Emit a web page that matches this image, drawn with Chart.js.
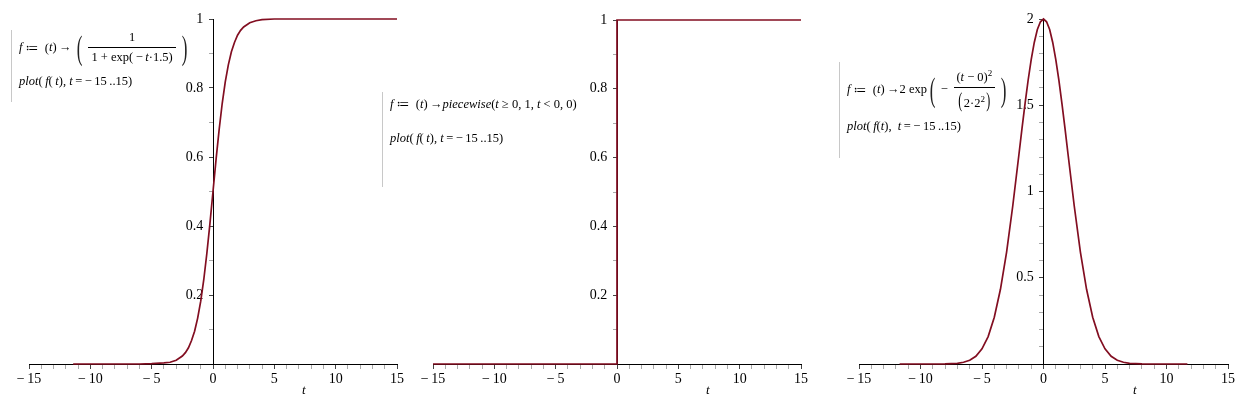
<!DOCTYPE html>
<html>
<head>
<meta charset="utf-8">
<script src="https://cdn.jsdelivr.net/npm/chart.js@4.4.1/dist/chart.umd.min.js"></script>
<style>
  html, body { margin: 0; padding: 0; background: #fff; }
  body { width: 1250px; height: 415px; position: relative; overflow: hidden; font-family: "Liberation Serif", "DejaVu Serif", serif; }
  .plot { position: absolute; top: 0; height: 415px; }
  .note { position: absolute; border-left: 1px solid #c8c8c8; padding-left: 7px; font-size: 12.5px; color: #000; white-space: nowrap; z-index: 2; }
  .note .row { display: flex; align-items: center; }
  .frac { display: inline-flex; flex-direction: column; align-items: center; margin: 0 3px; }
  .frac .den { border-top: 1px solid #000; padding: 2px 3px 0; }
  .frac .num { padding: 0 3px 2px; }
  .big { font-size: 34px; transform: scaleX(0.5); display: inline-block; font-weight: 300; color: #222; line-height: 1; }
  .mid { font-size: 20px; transform: scaleX(0.6); display: inline-block; line-height: 1; }
  .tlabel { position: absolute; top: 382px; font-style: italic; font-size: 13px; z-index: 2; }
</style>
</head>
<body>

<div class="plot" style="left:0;width:420px"><canvas id="sigmoidChart"></canvas></div>
<div class="plot" style="left:410px;width:410px"><canvas id="stepChart"></canvas></div>
<div class="plot" style="left:840px;width:410px"><canvas id="gaussChart"></canvas></div>

<div class="note" style="left:11px;top:30px;height:72px">
  <div class="row"><i>f</i>&nbsp;≔&nbsp; (<i>t</i>)&thinsp;→&thinsp;<span class="big">(</span><span class="frac"><span class="num">1</span><span class="den">1 + exp(&thinsp;−&thinsp;<i>t</i>·1.5)</span></span><span class="big">)</span></div>
  <div style="margin-top:9px"><i>plot</i>(&thinsp;<i>f</i>(&thinsp;<i>t</i>), <i>t</i>&thinsp;=&thinsp;−&thinsp;15&thinsp;..15)</div>
</div>

<div class="note" style="left:382px;top:92px;height:95px">
  <div style="margin-top:4px"><i>f</i>&nbsp;≔&nbsp; (<i>t</i>)&thinsp;→<i>piecewise</i>(<i>t</i> ≥ 0, 1, <i>t</i> &lt; 0, 0)</div>
  <div style="margin-top:19px"><i>plot</i>(&thinsp;<i>f</i>(&thinsp;<i>t</i>), <i>t</i>&thinsp;=&thinsp;−&thinsp;15&thinsp;..15)</div>
</div>

<div class="note" style="left:839px;top:62px;height:96px">
  <div class="row" style="margin-top:6px"><i>f</i>&nbsp;≔&nbsp; (<i>t</i>)&thinsp;→2 exp<span class="big">(</span>&thinsp;−&thinsp;<span class="frac"><span class="num">(<i>t</i> − 0)<sup style="font-size:9px">2</sup></span><span class="den"><span class="mid">(</span>2·2<sup style="font-size:9px">2</sup><span class="mid">)</span></span></span><span class="big">)</span></div>
  <div style="margin-top:8px"><i>plot</i>(&thinsp;<i>f</i>(<i>t</i>), &nbsp;<i>t</i>&thinsp;=&thinsp;−&thinsp;15&thinsp;..15)</div>
</div>

<div class="tlabel" style="left:302px">t</div>
<div class="tlabel" style="left:706px">t</div>
<div class="tlabel" style="left:1133px">t</div>

<script>
// values
const xTicks = [-15, -10, -5, 0, 5, 10, 15];

const sigmoidT = [-11.4, -6, -5, -4, -3.5, -3, -2.5, -2.25, -2, -1.75, -1.5, -1.25, -1, -0.75, -0.5, -0.25,
  0, 0.25, 0.5, 0.75, 1, 1.25, 1.5, 1.75, 2, 2.25, 2.5, 3, 3.5, 4, 5, 15];
const sigmoidF = [0, 0, 0.001, 0.003, 0.005, 0.011, 0.023, 0.033, 0.047, 0.068, 0.095, 0.133, 0.182, 0.245, 0.321, 0.407,
  0.5, 0.593, 0.679, 0.755, 0.818, 0.867, 0.905, 0.932, 0.953, 0.967, 0.977, 0.989, 0.995, 0.998, 1, 1];
const sigmoidYTicks = [0.2, 0.4, 0.6, 0.8, 1];

const stepT = [-15, 0, 0, 15];
const stepF = [0, 0, 1, 1];
const stepYTicks = [0.2, 0.4, 0.6, 0.8, 1];

const gaussT = [-11.7, -8, -7, -6.5, -6, -5.5, -5, -4.5, -4, -3.5, -3, -2.5, -2, -1.75, -1.5, -1.25, -1, -0.75, -0.5, -0.25, 0,
  0.25, 0.5, 0.75, 1, 1.25, 1.5, 1.75, 2, 2.5, 3, 3.5, 4, 4.5, 5, 5.5, 6, 6.5, 7, 8, 11.7];
const gaussF = [0, 0.001, 0.004, 0.01, 0.022, 0.045, 0.088, 0.159, 0.271, 0.433, 0.649, 0.916, 1.213, 1.364, 1.51, 1.645, 1.765, 1.864, 1.939, 1.984, 2,
  1.984, 1.939, 1.864, 1.765, 1.645, 1.51, 1.364, 1.213, 0.916, 0.649, 0.433, 0.271, 0.159, 0.088, 0.045, 0.022, 0.01, 0.004, 0.001, 0];
const gaussYTicks = [0.5, 1, 1.5, 2];

const lineColor = '#820e21';
const tickFont = { family: '"Liberation Serif", "DejaVu Serif", serif', size: 14 };

function fmt(v) {
  const s = String(Math.abs(Math.round(v * 100) / 100));
  return v < 0 ? '\u2212\u2009' + s : s;
}

function makePlot(id, ts, fs, yMax, yStep, yLabels, pad) {
  const ctx = document.getElementById(id).getContext('2d');
  return new Chart(ctx, {
    type: 'line',
    data: {
      datasets: [{
        data: ts.map((t, i) => ({ x: t, y: fs[i] })),
        borderColor: lineColor,
        borderWidth: 1.7,
        pointRadius: 0,
        tension: 0,
        clip: false
      }]
    },
    options: {
      responsive: true, maintainAspectRatio: false, animation: false,
      layout: { padding: pad },
      plugins: { legend: { display: false }, tooltip: { enabled: false } },
      scales: {
        x: {
          type: 'linear', position: { y: 0 }, min: -15, max: 15,
          border: { display: true, color: '#000', width: 1 },
          grid: {
            drawOnChartArea: false, drawTicks: true, tickLength: 4,
            color: c => xTicks.includes(c.tick.value) ? '#444' : '#aaa'
          },
          ticks: {
            stepSize: 1, autoSkip: false, maxRotation: 0, padding: 3,
            color: '#000', font: tickFont,
            callback: v => xTicks.includes(v) ? fmt(v) : ''
          }
        },
        y: {
          type: 'linear', position: { x: 0 }, min: 0, max: yMax,
          border: { display: true, color: '#000', width: 1 },
          grid: {
            drawOnChartArea: false, drawTicks: true, tickLength: 4,
            color: c => yLabels.some(l => Math.abs(l - c.tick.value) < 1e-6) ? '#444' : '#aaa'
          },
          ticks: {
            stepSize: yStep, autoSkip: false, maxTicksLimit: 100,
            color: '#000', font: tickFont,
            // centred axes ignore tick padding, so trailing spaces keep labels off the axis
            callback: v => yLabels.some(l => Math.abs(l - v) < 1e-6) ? fmt(v) + '\u2002\u2009' : ''
          }
        }
      }
    }
  });
}

makePlot('sigmoidChart', sigmoidT, sigmoidF, 1, 0.1, sigmoidYTicks, { left: 29, right: 23, top: 19, bottom: 51 });
makePlot('stepChart', stepT, stepF, 1, 0.1, stepYTicks, { left: 23, right: 19, top: 20, bottom: 51 });
makePlot('gaussChart', gaussT, gaussF, 2, 0.1, gaussYTicks, { left: 19, right: 22, top: 19, bottom: 51 });
</script>
</body>
</html>
